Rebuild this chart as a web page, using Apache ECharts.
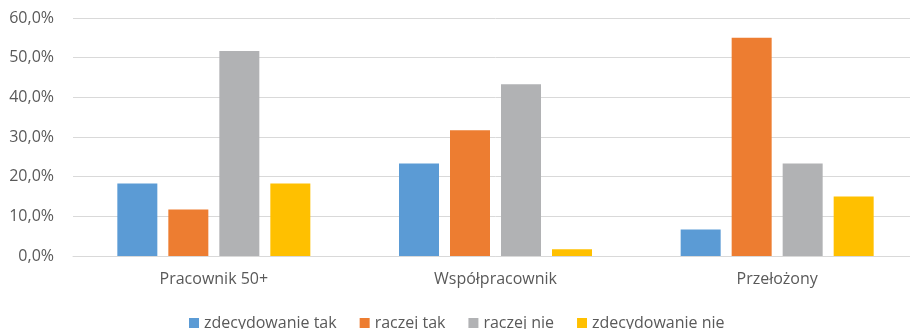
<!DOCTYPE html>
<html>
<head>
<meta charset="utf-8">
<script src="https://cdn.jsdelivr.net/npm/echarts@6/dist/echarts.min.js"></script>
<style>
  html, body { margin: 0; padding: 0; background: #fff; overflow: hidden; }
  /* the canvas is a little wider than the page; the plot runs past the right edge */
  #chart { width: 918px; height: 329px; }
</style>
</head>
<body>
<div id="chart"></div>
<script>
// Categories and answer shares (percent)
const categories = ['Pracownik 50+', 'Współpracownik', 'Przełożony'];
const seriesNames = ['zdecydowanie tak', 'raczej tak', 'raczej nie', 'zdecydowanie nie'];
const zdecydowanieTak = [18.3, 23.3, 6.7];
const raczejTak = [11.7, 31.7, 55.0];
const raczejNie = [51.7, 43.3, 23.3];
const zdecydowanieNie = [18.3, 1.7, 15.0];
const yTicks = [0, 10, 20, 30, 40, 50, 60];

const colors = ['#5B9BD5', '#ED7D31', '#B1B2B4', '#FFC000'];
const values = [zdecydowanieTak, raczejTak, raczejNie, zdecydowanieNie];
const font = '"Open Sans", "Liberation Sans", sans-serif';

const chart = echarts.init(document.getElementById('chart'));
chart.setOption({
  animation: false,
  color: colors,
  textStyle: { fontFamily: font },
  grid: { left: 73, top: 18, right: 0, height: 238, containLabel: false },
  legend: {
    top: 310,
    left: 184,
    data: seriesNames,
    itemWidth: 10,
    itemHeight: 10,
    itemGap: 23,
    icon: 'rect',
    textStyle: { color: '#595959', fontSize: 16, fontFamily: font }
  },
  xAxis: {
    type: 'category',
    data: categories,
    axisLine: { lineStyle: { color: '#D9D9D9', width: 1 } },
    axisTick: { show: false },
    axisLabel: { color: '#595959', fontSize: 16, margin: 15, fontFamily: font }
  },
  yAxis: {
    type: 'value',
    min: yTicks[0],
    max: yTicks[yTicks.length - 1],
    interval: 10,
    axisLine: { show: false },
    axisTick: { show: false },
    splitLine: { lineStyle: { color: '#D9D9D9', width: 1 } },
    axisLabel: {
      color: '#595959',
      fontSize: 16,
      margin: 19,
      fontFamily: font,
      formatter: v => v.toFixed(1).replace('.', ',') + '%'
    }
  },
  series: seriesNames.map((name, i) => ({
    name: name,
    type: 'bar',
    data: values[i],
    barWidth: 40,
    barGap: '27.5%',
    itemStyle: { color: colors[i] }
  }))
});
</script>
</body>
</html>
